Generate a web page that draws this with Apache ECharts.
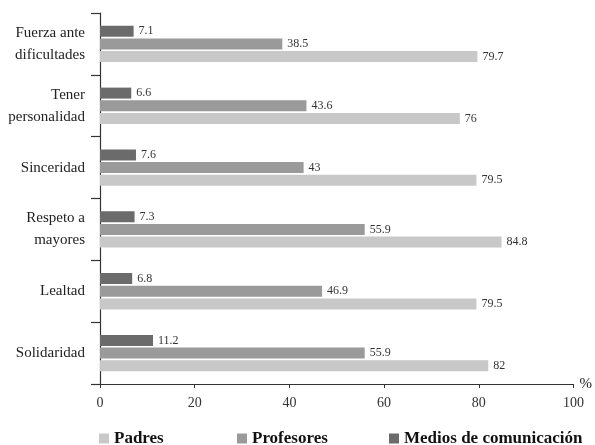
<!DOCTYPE html>
<html>
<head>
<meta charset="utf-8">
<script src="https://cdn.jsdelivr.net/npm/echarts@6/dist/echarts.min.js"></script>
<style>
  html, body { margin: 0; padding: 0; background: #fff; }
  #chart { width: 595px; height: 445px; }
</style>
</head>
<body>
<div id="chart"></div>
<script>
// Values listed from top category to bottom category
const categories = [
  'Fuerza ante\ndificultades',
  'Tener\npersonalidad',
  'Sinceridad',
  'Respeto a\nmayores',
  'Lealtad',
  'Solidaridad'
];
const padres = [79.7, 76, 79.5, 84.8, 79.5, 82];
const profesores = [38.5, 43.6, 43, 55.9, 46.9, 55.9];
const medios = [7.1, 6.6, 7.6, 7.3, 6.8, 11.2];
const xTicks = [0, 20, 40, 60, 80, 100];

const serif = '"Liberation Serif", "DejaVu Serif", serif';
const colors = { padres: '#c8c8c8', profesores: '#9a9a9a', medios: '#6b6b6b' };

function barSeries(name, data, color) {
  return {
    name: name,
    type: 'bar',
    data: data,
    barWidth: 11,
    barGap: '15%',
    itemStyle: { color: color },
    label: {
      show: true,
      position: 'right',
      distance: 5,
      color: '#333',
      fontFamily: serif,
      fontSize: 12,
      formatter: p => String(p.value)
    }
  };
}

function legendAt(left, name) {
  return {
    left: left,
    top: 425,
    itemWidth: 10,
    itemHeight: 10,
    itemGap: 9,
    icon: 'rect',
    data: [name],
    textStyle: { fontFamily: serif, fontSize: 17, fontWeight: 'bold', color: '#111' }
  };
}

const chart = echarts.init(document.getElementById('chart'));
chart.setOption({
  animation: false,
  grid: { left: 100, right: 20, top: 13, bottom: 61 },
  legend: [
    legendAt(94, 'Padres'),
    legendAt(232, 'Profesores'),
    legendAt(384, 'Medios de comunicación')
  ],
  xAxis: {
    type: 'value',
    min: xTicks[0],
    max: xTicks[xTicks.length - 1],
    interval: 20,
    name: '%',
    nameLocation: 'end',
    nameGap: 6,
    nameTextStyle: { fontFamily: serif, fontSize: 15, color: '#222' },
    splitLine: { show: false },
    axisLine: { show: true, lineStyle: { color: '#333', width: 1.2 } },
    axisTick: { show: true, length: 4, lineStyle: { color: '#333' } },
    axisLabel: { fontFamily: serif, fontSize: 14, color: '#333', margin: 12 }
  },
  yAxis: {
    type: 'category',
    inverse: true,
    data: categories,
    axisLine: { show: true, lineStyle: { color: '#333', width: 1.2 } },
    axisTick: { show: true, length: 9, lineStyle: { color: '#333', width: 1.2 } },
    axisLabel: { fontFamily: serif, fontSize: 15, color: '#222', margin: 15, lineHeight: 22, align: 'right' }
  },
  series: [
    barSeries('Medios de comunicación', medios, colors.medios),
    barSeries('Profesores', profesores, colors.profesores),
    barSeries('Padres', padres, colors.padres)
  ]
});
</script>
</body>
</html>
